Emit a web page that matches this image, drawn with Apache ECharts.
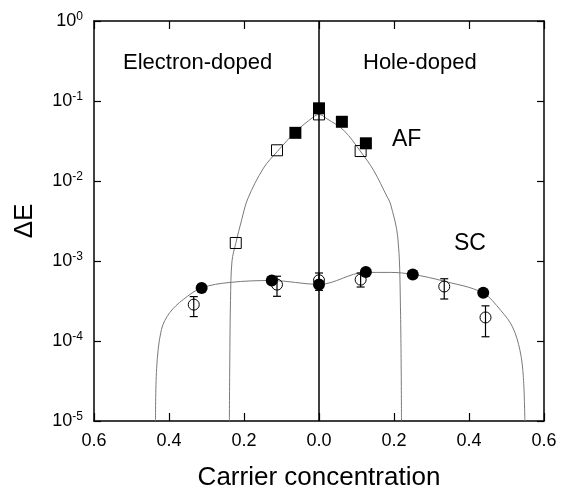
<!DOCTYPE html>
<html>
<head>
<meta charset="utf-8">
<script src="https://cdn.jsdelivr.net/npm/echarts@6/dist/echarts.min.js"></script>
<style>
  html, body { margin: 0; padding: 0; background: #fff; }
  #chart { width: 563px; height: 490px; }
</style>
</head>
<body>
<div id="chart"></div>
<script>
// Carrier concentration: negative = electron-doped, positive = hole-doped
const xTicks = [-0.6, -0.4, -0.2, 0.0, 0.2, 0.4, 0.6];
const yDecades = [1e-5, 1e-4, 1e-3, 1e-2, 1e-1, 1];

// AF gap, filled squares
const afFilledX = [-0.063, 0.0, 0.061, 0.125];
const afFilledY = [0.040, 0.081, 0.055, 0.0296];

// AF gap, open squares
const afOpenX = [-0.222, -0.112, 0.0, 0.111];
const afOpenY = [0.00168, 0.0242, 0.068, 0.0237];

// SC gap, filled circles
const scFilledX = [-0.313, -0.126, 0.0, 0.125, 0.250, 0.438];
const scFilledY = [4.6e-4, 5.7e-4, 5.1e-4, 7.3e-4, 6.8e-4, 4.0e-4];

// SC gap, open circles with error bars
const scOpenX = [-0.334, -0.112, 0.0, 0.111, 0.334, 0.444];
const scOpenY = [2.85e-4, 5.07e-4, 5.74e-4, 5.85e-4, 4.8e-4, 1.97e-4];
const scOpenLo = [2.02e-4, 3.62e-4, 4.3e-4, 4.73e-4, 3.35e-4, 1.13e-4];
const scOpenHi = [3.59e-4, 6.45e-4, 7.08e-4, 7.08e-4, 6.0e-4, 2.75e-4];

// Guide curve through the AF gap
const afCurveX = [-0.239, -0.238, -0.236, -0.232, -0.222, -0.206, -0.19, -0.148, -0.111, -0.063, -0.015, 0.0, 0.021, 0.066, 0.112, 0.146, 0.182, 0.19, 0.21, 0.217, 0.22];
const afCurveY = [1e-5, 5e-5, 3.2e-4, 1.0e-3, 1.66e-3, 3.3e-3, 6.0e-3, 0.0145, 0.0234, 0.041, 0.063, 0.068, 0.060, 0.043, 0.023, 0.0135, 0.0063, 0.0053, 2.0e-3, 3.0e-4, 1e-5];

// Guide curve through the SC gap
const scCurveX = [-0.436, -0.433, -0.42, -0.398, -0.362, -0.313, -0.237, -0.126, 0.0, 0.124, 0.19, 0.25, 0.333, 0.437, 0.485, 0.516, 0.536, 0.545, 0.549];
const scCurveY = [1e-5, 4.5e-5, 1.4e-4, 2.26e-4, 3.3e-4, 4.6e-4, 5.4e-4, 5.7e-4, 5.1e-4, 7.2e-4, 7.2e-4, 6.8e-4, 5.6e-4, 4.0e-4, 2.4e-4, 1.5e-4, 7.6e-5, 3.5e-5, 1e-5];

const FONT = 'Liberation Sans, Arial, sans-serif';
const zip = (xs, ys) => xs.map((x, i) => [x, ys[i]]);

const chart = echarts.init(document.getElementById('chart'));

const axisLine = { show: true, onZero: false, lineStyle: { color: '#000', width: 1.5 } };
const xCommon = {
  type: 'value', min: xTicks[0], max: xTicks[xTicks.length - 1], interval: 0.2,
  axisLine: axisLine, splitLine: { show: false },
  axisTick: { show: true, inside: true, length: 8, lineStyle: { color: '#000', width: 1.2 } }
};
const yCommon = {
  type: 'log', logBase: 10, min: yDecades[0], max: yDecades[yDecades.length - 1], interval: 1,
  axisLine: axisLine, splitLine: { show: false }, minorTick: { show: false },
  axisTick: { show: true, inside: true, length: 7, lineStyle: { color: '#000', width: 1.2 } }
};

chart.setOption({
  animation: false,
  backgroundColor: '#fff',
  textStyle: { fontFamily: FONT },
  grid: { left: 94, right: 19, top: 21, bottom: 69, containLabel: false, outerBoundsMode: 'none' },
  xAxis: [
    Object.assign({}, xCommon, {
      position: 'bottom',
      name: 'Carrier concentration', nameLocation: 'middle', nameGap: 44,
      nameTextStyle: { fontSize: 26, color: '#000', fontFamily: FONT },
      axisLabel: {
        show: true, margin: 11, fontSize: 18, color: '#000', fontFamily: FONT,
        formatter: v => Math.abs(v).toFixed(1)
      }
    }),
    Object.assign({}, xCommon, { position: 'top', axisLabel: { show: false } })
  ],
  yAxis: [
    Object.assign({}, yCommon, {
      position: 'left',
      name: 'ΔE', nameLocation: 'middle', nameGap: 56,
      nameTextStyle: { fontSize: 26, color: '#000', fontFamily: FONT },
      axisLabel: {
        show: true, margin: 11, color: '#000', fontFamily: FONT,
        formatter: v => '{b|10}{s|' + Math.round(Math.log10(v)) + '}',
        rich: {
          b: { fontSize: 18, fontFamily: FONT, color: '#000', lineHeight: 20 },
          s: { fontSize: 12, fontFamily: FONT, color: '#000', verticalAlign: 'top', lineHeight: 20, padding: [0, 0, 6, 0] }
        }
      }
    }),
    Object.assign({}, yCommon, { position: 'right', axisLabel: { show: false } })
  ],
  series: [
    {
      name: 'AF curve', type: 'line', data: zip(afCurveX, afCurveY),
      showSymbol: false, symbol: 'none', smooth: 0.35,
      lineStyle: { color: '#7a7a7a', width: 1 }, z: 1, silent: true
    },
    {
      name: 'SC curve', type: 'line', data: zip(scCurveX, scCurveY),
      showSymbol: false, symbol: 'none', smooth: 0.35,
      lineStyle: { color: '#7a7a7a', width: 1 }, z: 1, silent: true
    },
    {
      name: 'zero', type: 'line', data: [[0, yDecades[0]], [0, yDecades[yDecades.length - 1]]],
      symbol: 'none', lineStyle: { color: '#000', width: 1.5 }, z: 2, silent: true
    },
    {
      name: 'AF open', type: 'scatter', data: zip(afOpenX, afOpenY),
      symbol: 'rect', symbolSize: 11,
      itemStyle: { color: 'rgba(0,0,0,0)', borderColor: '#000', borderWidth: 1, opacity: 1 }, z: 3
    },
    {
      name: 'AF filled', type: 'scatter', data: zip(afFilledX, afFilledY),
      symbol: 'rect', symbolSize: 12,
      itemStyle: { color: '#000', opacity: 1 }, z: 4
    },
    {
      name: 'SC open', type: 'scatter', data: zip(scOpenX, scOpenY),
      symbol: 'circle', symbolSize: 11,
      itemStyle: { color: 'rgba(0,0,0,0)', borderColor: '#000', borderWidth: 1, opacity: 1 }, z: 3
    },
    {
      name: 'SC filled', type: 'scatter', data: zip(scFilledX, scFilledY),
      symbol: 'circle', symbolSize: 12,
      itemStyle: { color: '#000', opacity: 1 }, z: 4
    },
    {
      name: 'SC error', type: 'custom',
      data: scOpenX.map((x, i) => [x, scOpenLo[i], scOpenHi[i]]),
      encode: { x: 0, y: [1, 2] }, z: 5, silent: true,
      renderItem: function (params, api) {
        const x = api.value(0);
        const lo = api.coord([x, api.value(1)]);
        const hi = api.coord([x, api.value(2)]);
        const w = 4;
        const st = { stroke: '#000', lineWidth: 1.2 };
        return {
          type: 'group',
          children: [
            { type: 'line', shape: { x1: lo[0], y1: lo[1], x2: hi[0], y2: hi[1] }, style: st },
            { type: 'line', shape: { x1: lo[0] - w, y1: lo[1], x2: lo[0] + w, y2: lo[1] }, style: st },
            { type: 'line', shape: { x1: hi[0] - w, y1: hi[1], x2: hi[0] + w, y2: hi[1] }, style: st }
          ]
        };
      }
    }
  ],
  graphic: [
    { type: 'text', left: 123, top: 52, style: { text: 'Electron-doped', font: '22px ' + FONT, fill: '#000' } },
    { type: 'text', left: 363, top: 52, style: { text: 'Hole-doped', font: '22px ' + FONT, fill: '#000' } },
    { type: 'text', left: 392, top: 128, style: { text: 'AF', font: '23px ' + FONT, fill: '#000' } },
    { type: 'text', left: 454, top: 232, style: { text: 'SC', font: '23px ' + FONT, fill: '#000' } }
  ]
});
</script>
</body>
</html>
